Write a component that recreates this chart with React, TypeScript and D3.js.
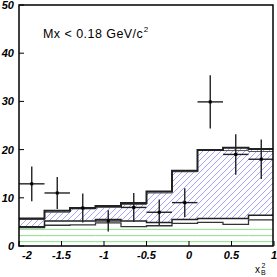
import * as d3 from 'd3';

// bin edges in x_B^2 and histogram contents
const binEdges = [-2, -1.7, -1.4, -1.1, -0.8, -0.5, -0.2, 0.1, 0.4, 0.7, 1.0];
const histTop = [5.7, 7.3, 7.9, 8.3, 8.9, 11.3, 15.6, 19.9, 20.4, 20.1];
const histTop2 = [5.5, 7.0, 7.7, 8.0, 8.6, 11.0, 15.4, 19.9, 19.8, 19.6];
const histMid = [4.0, 5.2, 5.2, 5.5, 5.2, 4.9, 5.5, 5.7, 5.7, 6.4];
const histLow = [3.8, 4.3, 4.4, 4.8, 4.0, 4.2, 4.7, 4.9, 4.5, 5.4];
const greenA = [3.45, 3.45, 3.45, 3.45, 3.45, 3.45, 3.45, 3.45, 3.45, 3.45];
const greenB = [2.15, 2.15, 2.15, 2.15, 2.15, 2.15, 2.15, 2.15, 2.15, 2.15];
const greenC = [0.9, 0.9, 0.9, 0.9, 0.9, 0.9, 0.9, 0.9, 0.9, 0.9];

// data points
const ptX = [-1.85, -1.55, -1.25, -0.95, -0.65, -0.35, -0.05, 0.25, 0.55, 0.85];
const ptY = [12.9, 11.0, 7.9, 5.2, 8.0, 7.0, 9.0, 29.9, 19.0, 18.0];
const ptErr = [3.6, 3.3, 3.0, 2.2, 3.0, 2.65, 3.0, 5.5, 4.2, 4.1];
const halfWidth = 0.15;

const xTicks = [-2, -1.5, -1, -0.5, 0, 0.5, 1];
const xTickLabels = ['-2', '-1.5', '-1', '-0.5', '0', '0.5', '1'];
const yTicks = [0, 10, 20, 30, 40, 50];

const W = 277;
const H = 277;
const margin = { top: 5, right: 4, bottom: 31, left: 19 };

const App = () => {
  const x = d3.scaleLinear().domain([-2, 1]).range([margin.left, W - margin.right + 1]);
  const y = d3.scaleLinear().domain([0, 50]).range([H - margin.bottom, margin.top]);

  const step = d3
    .line<[number, number]>()
    .x((d) => x(d[0]))
    .y((d) => y(d[1]))
    .curve(d3.curveStepAfter);

  const pts = (vals: number[]): [number, number][] =>
    binEdges.map((e, i) => [e, vals[Math.min(i, vals.length - 1)]] as [number, number]);

  const band = d3
    .area<[number, number, number]>()
    .x((d) => x(d[0]))
    .y0((d) => y(d[2]))
    .y1((d) => y(d[1]))
    .curve(d3.curveStepAfter);

  const bandPts = binEdges.map(
    (e, i) =>
      [e, histTop[Math.min(i, 9)], histMid[Math.min(i, 9)]] as [number, number, number],
  );

  const x0 = x(-2);
  const x1 = x(1) - 1;
  const yb = y(0);
  const yt = y(50);

  // diagonal hatch lines, clipped to the band
  const hatchOffsets = d3.range(-H, W + H, 6);

  return (
    <svg
      width={W}
      height={H}
      style={{ position: 'fixed', top: 0, left: 0, background: '#fff' }}
      fontFamily="'Liberation Sans', Arial, sans-serif"
    >
      <defs>
        <clipPath id="plot">
          <rect x={x0} y={yt} width={x1 - x0} height={yb - yt} />
        </clipPath>
        <clipPath id="bandClip">
          <path d={band(bandPts) as string} />
        </clipPath>
      </defs>

      <g clipPath="url(#plot)">
        {[greenA, greenB, greenC].map((g, i) => (
          <path key={i} d={step(pts(g)) as string} fill="none" stroke="#88e088" strokeWidth={1} />
        ))}
        <g clipPath="url(#bandClip)" stroke="#9c9cff" strokeWidth={0.9}>
          {hatchOffsets.map((o) => (
            <line key={o} x1={o} y1={H} x2={o + H} y2={0} />
          ))}
        </g>
        <path d={step(pts(histLow)) as string} fill="none" stroke="#333" strokeWidth={1.3} />
        <path d={step(pts(histMid)) as string} fill="none" stroke="#222" strokeWidth={1.5} />
        <path d={step(pts(histTop2)) as string} fill="none" stroke="#555" strokeWidth={1} />
        <path d={step(pts(histTop)) as string} fill="none" stroke="#222" strokeWidth={2} />

        {ptX.map((px, i) => (
          <g key={i} stroke="#222" strokeWidth={1.4}>
            <line x1={x(px - halfWidth)} x2={x(px + halfWidth)} y1={y(ptY[i])} y2={y(ptY[i])} />
            <line x1={x(px)} x2={x(px)} y1={y(ptY[i] - ptErr[i])} y2={y(ptY[i] + ptErr[i])} />
            <rect x={x(px) - 1.5} y={y(ptY[i]) - 1.5} width={3} height={3} fill="#000" stroke="none" />
          </g>
        ))}
      </g>

      {/* frame */}
      <rect x={x0} y={yt} width={x1 - x0} height={yb - yt} fill="none" stroke="#000" strokeWidth={1.5} />

      {/* y axis */}
      {yTicks.map((t) => (
        <g key={t}>
          <line x1={x0} x2={x0 + 5} y1={y(t)} y2={y(t)} stroke="#000" strokeWidth={1} />
          <text
            x={14}
            y={y(t)}
            dy="0.36em"
            textAnchor="end"
            fontSize={11}
            fontWeight="bold"
            fontStyle="italic"
          >
            {t}
          </text>
        </g>
      ))}

      {/* x axis */}
      {xTicks.map((t, i) => (
        <g key={t}>
          <line x1={x(t)} x2={x(t)} y1={yb} y2={yb - 5} stroke="#000" strokeWidth={1} />
          <text
            x={x(t) + (i === 0 ? 8 : 0)}
            y={yb + 13}
            textAnchor="middle"
            fontSize={11}
            fontWeight="bold"
            fontStyle="italic"
          >
            {xTickLabels[i]}
          </text>
        </g>
      ))}

      {/* axis title x_B^2 */}
      <text x={255} y={273} fontSize={10}>x</text>
      <text x={261} y={275} fontSize={7}>B</text>
      <text x={261.5} y={268} fontSize={7}>2</text>

      {/* cut label */}
      <text x={43} y={37.5} fontSize={12.5} letterSpacing={0.45}>
        Mx &lt; 0.18 GeV/c
        <tspan fontSize={8} dy={-5.5} dx={0.5}>2</tspan>
      </text>
    </svg>
  );
};

export default App;
